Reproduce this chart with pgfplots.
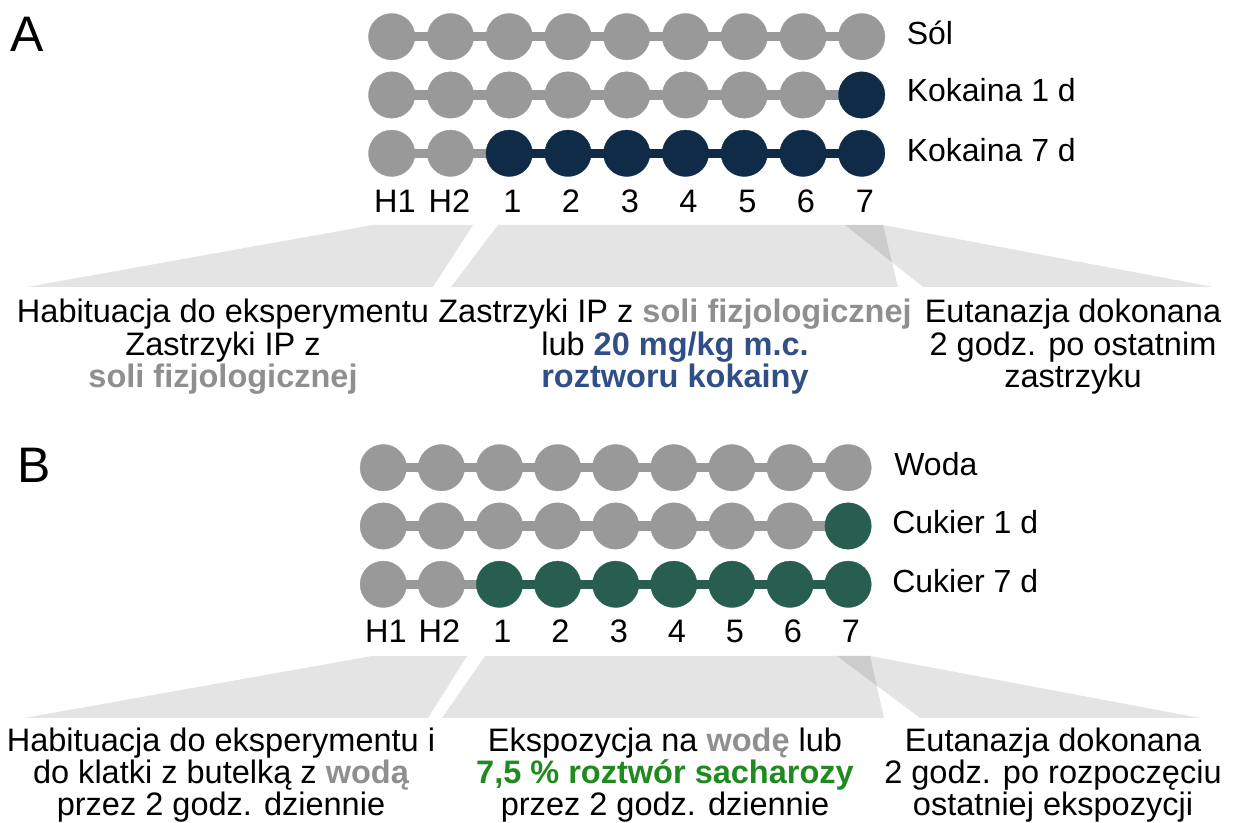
\documentclass[border=0pt]{standalone}
\usepackage{fontspec}
\setmainfont{Liberation Sans}
\usepackage{pgfplots}
\pgfplotsset{compat=1.18}

\definecolor{cgray}{HTML}{999999}
\definecolor{cnavy}{HTML}{0F2B48}
\definecolor{cgreen}{HTML}{275E4F}
\definecolor{tgray}{HTML}{8F8F8F}
\definecolor{tblue}{HTML}{2F4F86}
\definecolor{tgreen}{HTML}{1F8A1F}

% one px of the reference = 0.02cm
\newcommand{\txt}[3]{\node[anchor=base, inner sep=0pt, font=\fontsize{18.5}{18.5}\selectfont] at (axis cs:#1,#2) {#3};}
\newcommand{\lab}[3]{\node[anchor=base west, inner sep=0pt, font=\fontsize{18.2}{18.2}\selectfont] at (axis cs:#1,#2) {#3};}

\begin{document}
\begin{tikzpicture}
\begin{axis}[
  width=24.78cm, height=16.46cm, scale only axis,
  xmin=0, xmax=1239, ymin=0, ymax=823, y dir=reverse,
  hide axis, clip=false,
  dot/.style={only marks, mark=*, mark size=13.2pt, color=#1, mark options={fill=#1, draw=#1, line width=0.2pt}},
  bar/.style={no marks, line width=5.3pt, color=#1},
  shade/.style={draw=none, fill=black, fill opacity=0.106},
]

% ---------- panel A ----------
\addplot[shade] coordinates {(373,225) (473,225) (433,287) (27,287)} -- cycle;
\addplot[shade] coordinates {(498,225) (883,225) (898,287) (451,287)} -- cycle;
\addplot[shade] coordinates {(845,225) (883,225) (1213,287) (923,287)} -- cycle;

% Sol
\addplot[bar=cgray] coordinates {(391.7,36.7) (861.7,36.7)};
\addplot[dot=cgray] coordinates {(391.7,36.7) (450.5,36.7) (509.2,36.7) (568.0,36.7) (626.7,36.7) (685.5,36.7) (744.2,36.7) (803.0,36.7) (861.7,36.7)};
% Kokaina 1 d
\addplot[bar=cgray] coordinates {(391.7,95) (861.7,95)};
\addplot[dot=cgray] coordinates {(391.7,95) (450.5,95) (509.2,95) (568.0,95) (626.7,95) (685.5,95) (744.2,95) (803.0,95)};
\addplot[dot=cnavy] coordinates {(861.7,95)};
% Kokaina 7 d
\addplot[bar=cgray] coordinates {(391.7,153.3) (509.2,153.3)};
\addplot[bar=cnavy] coordinates {(509.2,153.3) (861.7,153.3)};
\addplot[dot=cgray] coordinates {(391.7,153.3) (450.5,153.3)};
\addplot[dot=cnavy] coordinates {(509.2,153.3) (568.0,153.3) (626.7,153.3) (685.5,153.3) (744.2,153.3) (803.0,153.3) (861.7,153.3)};

% ---------- panel B ----------
\addplot[shade] coordinates {(372,656) (467,656) (428,718) (24,718)} -- cycle;
\addplot[shade] coordinates {(485,656) (870,656) (884,718) (442,718)} -- cycle;
\addplot[shade] coordinates {(837,656) (870,656) (1200,718) (920,718)} -- cycle;

% Woda
\addplot[bar=cgray] coordinates {(383.3,467.7) (848.1,467.7)};
\addplot[dot=cgray] coordinates {(383.3,467.7) (441.4,467.7) (499.5,467.7) (557.6,467.7) (615.7,467.7) (673.8,467.7) (731.9,467.7) (790.0,467.7) (848.1,467.7)};
% Cukier 1 d
\addplot[bar=cgray] coordinates {(383.3,526) (848.1,526)};
\addplot[dot=cgray] coordinates {(383.3,526) (441.4,526) (499.5,526) (557.6,526) (615.7,526) (673.8,526) (731.9,526) (790.0,526)};
\addplot[dot=cgreen] coordinates {(848.1,526)};
% Cukier 7 d
\addplot[bar=cgray] coordinates {(383.3,584.3) (499.5,584.3)};
\addplot[bar=cgreen] coordinates {(499.5,584.3) (848.1,584.3)};
\addplot[dot=cgray] coordinates {(383.3,584.3) (441.4,584.3)};
\addplot[dot=cgreen] coordinates {(499.5,584.3) (557.6,584.3) (615.7,584.3) (673.8,584.3) (731.9,584.3) (790.0,584.3) (848.1,584.3)};

% ---------- texts ----------
\node[anchor=base west, inner sep=0pt, font=\fontsize{28.4}{28.4}\selectfont] at (axis cs:10,52) {A};
\node[anchor=base west, inner sep=0pt, font=\fontsize{28.4}{28.4}\selectfont] at (axis cs:17,483) {B};

\lab{906.5}{45}{Sól}
\lab{906.5}{102}{Kokaina 1 d}
\lab{906.5}{162}{Kokaina 7 d}
\lab{894}{476}{Woda}
\lab{892}{534}{Cukier 1 d}
\lab{892}{593}{Cukier 7 d}

% day ticks
\txt{395}{213}{H1}\txt{449.5}{213}{H2}\txt{512.5}{213}{1}\txt{571}{213}{2}\txt{630}{213}{3}
\txt{688.5}{213}{4}\txt{747.5}{213}{5}\txt{806}{213}{6}\txt{865}{213}{7}
\txt{386}{643}{H1}\txt{439.5}{643}{H2}\txt{502.5}{643}{1}\txt{560.5}{643}{2}\txt{619}{643}{3}
\txt{677}{643}{4}\txt{735}{643}{5}\txt{793}{643}{6}\txt{851}{643}{7}

% panel A descriptions
\txt{223}{323}{Habituacja do eksperymentu}
\txt{223}{355.5}{Zastrzyki IP z}
\txt{223}{388}{\textcolor{tgray}{\bfseries soli fizjologicznej}}
\txt{675}{323}{Zastrzyki IP z \textcolor{tgray}{\bfseries soli fizjologicznej}}
\txt{675}{355.5}{lub \textcolor{tblue}{\bfseries 20 mg/kg m.c.}}
\txt{675}{388}{\textcolor{tblue}{\bfseries roztworu kokainy}}
\txt{1073}{323}{Eutanazja dokonana}
\txt{1073}{355.5}{2 godz. po ostatnim}
\txt{1073}{388}{zastrzyku}

% panel B descriptions
\txt{221}{752}{Habituacja do eksperymentu i}
\txt{221}{784}{do klatki z butelką z \textcolor{tgray}{\bfseries wodą}}
\txt{221}{816}{przez 2 godz. dziennie}
\txt{665}{752}{Ekspozycja na \textcolor{tgray}{\bfseries wodę} lub}
\txt{665}{784}{\textcolor{tgreen}{\bfseries 7,5 \% roztwór sacharozy}}
\txt{665}{816}{przez 2 godz. dziennie}
\txt{1053}{752}{Eutanazja dokonana}
\txt{1053}{784}{2 godz. po rozpoczęciu}
\txt{1053}{816}{ostatniej ekspozycji}
\end{axis}
\pgfresetboundingbox
\path (0,0) rectangle (24.78cm,16.46cm);
\end{tikzpicture}
\end{document}
